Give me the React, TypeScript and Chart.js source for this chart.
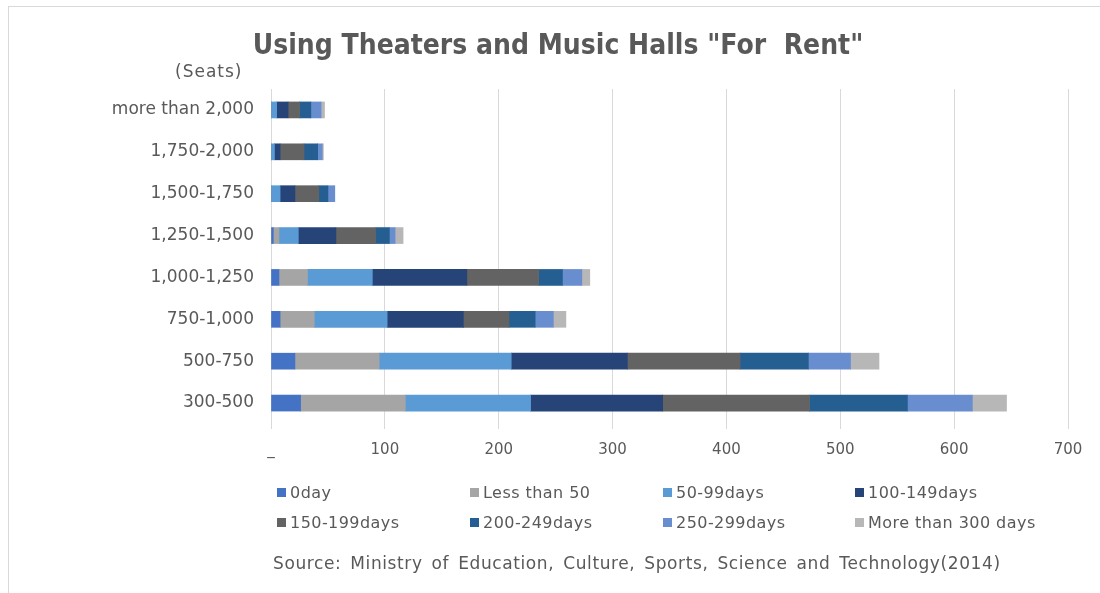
import React, { useEffect, useRef } from "react";
import { Chart, registerables } from "chart.js";

Chart.register(...registerables);

const categories = [
  "more than 2,000",
  "1,750-2,000",
  "1,500-1,750",
  "1,250-1,500",
  "1,000-1,250",
  "750-1,000",
  "500-750",
  "300-500",
];

const seriesNames = [
  "0day",
  "Less than 50",
  "50-99days",
  "100-149days",
  "150-199days",
  "200-249days",
  "250-299days",
  "More than 300 days",
];

const seriesColors = [
  "#4472C4",
  "#A5A5A5",
  "#5B9BD5",
  "#264478",
  "#636363",
  "#255E91",
  "#698ED0",
  "#B7B7B7",
];

// values per series, in category order (top to bottom)
const day0 = [0, 0, 0, 2, 7, 8, 21, 26];
const lessThan50 = [0, 0, 0, 5, 25, 30, 74, 92];
const days50to99 = [5, 3, 8, 17, 57, 64, 116, 110];
const days100to149 = [10, 5, 13, 33, 83, 67, 102, 116];
const days150to199 = [10, 21, 21, 35, 63, 40, 99, 129];
const days200to249 = [10, 12, 8, 12, 21, 23, 60, 86];
const days250to299 = [9, 4, 6, 5, 17, 16, 37, 57];
const moreThan300 = [3, 1, 0, 7, 7, 11, 25, 30];

const seriesValues = [
  day0,
  lessThan50,
  days50to99,
  days100to149,
  days150to199,
  days200to249,
  days250to299,
  moreThan300,
];

const xTickValues = [0, 100, 200, 300, 400, 500, 600, 700];
const xTickLabels = ["_", "100", "200", "300", "400", "500", "600", "700"];

const title = 'Using Theaters and Music Halls "For  Rent"';
const unitLabel = "(Seats)";
const sourceText =
  "Source: Ministry of Education, Culture, Sports, Science and Technology(2014)";

const FONT = "'DejaVu Sans', sans-serif";
const TEXT = "#595959";

export default function App() {
  const canvasRef = useRef<HTMLCanvasElement | null>(null);

  useEffect(() => {
    document.body.style.margin = "0";
    const ctx = canvasRef.current;
    if (!ctx) return;
    const chart = new Chart(ctx, {
      type: "bar",
      data: {
        labels: categories,
        datasets: seriesNames.map((name, i) => ({
          label: name,
          data: seriesValues[i],
          backgroundColor: seriesColors[i],
          borderWidth: 0,
          barThickness: 16,
        })),
      },
      options: {
        indexAxis: "y",
        animation: false,
        responsive: false,
        maintainAspectRatio: false,
        layout: { padding: { left: 0, right: 32, top: 89, bottom: 129 } },
        plugins: {
          legend: { display: false },
          title: { display: false },
          tooltip: { enabled: false },
        },
        scales: {
          x: {
            stacked: true,
            min: 0,
            max: 700,
            afterFit: (s: any) => {
              s.height = 40;
            },
            afterBuildTicks: (s: any) => {
              s.ticks = xTickValues.map((v) => ({ value: v }));
            },
            grid: { color: "#D9D9D9", drawTicks: true, tickLength: 5, lineWidth: 1 },
            border: { display: false },
            ticks: {
              color: TEXT,
              font: { family: FONT, size: 15 },
              padding: 12,
              callback: (v: any) => {
                const idx = xTickValues.indexOf(Number(v));
                return idx >= 0 ? xTickLabels[idx] : "";
              },
            },
          },
          y: {
            stacked: true,
            afterFit: (s: any) => {
              s.width = 271;
            },
            grid: { display: false, drawTicks: false },
            border: { display: true, color: "#D9D9D9" },
            ticks: {
              color: TEXT,
              font: { family: FONT, size: 17 },
              padding: 17,
            },
          },
        },
      },
    });
    return () => chart.destroy();
  }, []);

  const legendCols = [277, 470, 663, 855];
  const legendRows = [492, 522];

  return (
    <div style={{ position: "relative", width: 1100, height: 593, background: "#fff", overflow: "hidden", fontFamily: FONT }}>
      <div style={{ position: "absolute", left: 8, top: 6, right: -2, bottom: -2, borderTop: "1px solid #D9D9D9", borderLeft: "1px solid #D9D9D9" }} />
      <canvas ref={canvasRef} width={1100} height={593} style={{ position: "absolute", left: 0, top: 0 }} />
      <div style={{ position: "absolute", left: 0, width: 1116, top: 27, textAlign: "center", fontSize: 28, fontWeight: "bold", color: TEXT, fontFamily: "'DejaVu Sans Condensed', 'DejaVu Sans', sans-serif", whiteSpace: "pre", lineHeight: "36px" }}>
        {title}
      </div>
      <div style={{ position: "absolute", left: 175, top: 61, fontSize: 17, letterSpacing: 1, color: TEXT }}>{unitLabel}</div>
      {seriesNames.map((name, i) => {
        const col = i % 4;
        const row = Math.floor(i / 4);
        return (
          <div key={name} style={{ position: "absolute", left: legendCols[col], top: legendRows[row] - 10, height: 20, display: "flex", alignItems: "center", fontSize: 16, letterSpacing: 0.45, color: TEXT, whiteSpace: "nowrap" }}>
            <span style={{ display: "inline-block", width: 9, height: 9, background: seriesColors[i], marginRight: 4 }} />
            {name}
          </div>
        );
      })}
      <div style={{ position: "absolute", left: 273, top: 553, fontSize: 17, letterSpacing: 0.6, wordSpacing: 3, color: TEXT, whiteSpace: "nowrap" }}>{sourceText}</div>
    </div>
  );
}
